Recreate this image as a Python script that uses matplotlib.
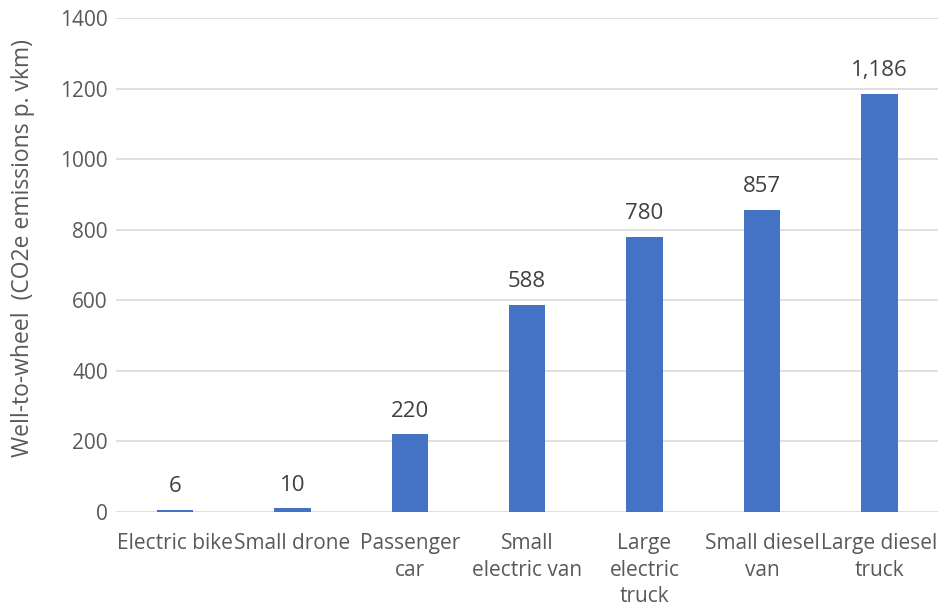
import matplotlib.pyplot as plt
import numpy as np

# Well-to-wheel emissions per vehicle type
categories = ["Electric bike", "Small drone", "Passenger\ncar", "Small\nelectric van",
              "Large\nelectric\ntruck", "Small diesel\nvan", "Large diesel\ntruck"]
emissions = [6, 10, 220, 588, 780, 857, 1186]
value_labels = ["6", "10", "220", "588", "780", "857", "1,186"]
y_ticks = [0, 200, 400, 600, 800, 1000, 1200, 1400]

BAR_COLOR = "#4472C4"
TEXT_COLOR = "#595959"
GRID_COLOR = "#D9D9D9"

plt.rcParams["font.family"] = ["Open Sans", "DejaVu Sans"]

fig = plt.figure(figsize=(9.38, 6.10), dpi=100)
ax = fig.add_axes([0.124, 0.1607, 0.876, 0.8098])

x = np.arange(len(categories))
ax.bar(x, emissions, width=0.31, color=BAR_COLOR, zorder=3)

for xi, v, lab in zip(x, emissions, value_labels):
    ax.annotate(lab, (xi, v), xytext=(0, 9), textcoords="offset points",
                ha="center", va="bottom", fontsize=16, color="#404040")

ax.set_xlim(-0.5, len(categories) - 0.5)
ax.set_ylim(0, 1400)
ax.set_yticks(y_ticks)
ax.set_yticklabels([str(t) for t in y_ticks], fontsize=15, color=TEXT_COLOR)
ax.set_xticks(x)
ax.set_xticklabels(categories, fontsize=15, color=TEXT_COLOR, linespacing=1.36, va="top")
ax.tick_params(axis="both", length=0)
ax.tick_params(axis="x", pad=15)
ax.tick_params(axis="y", pad=6)

ax.grid(axis="y", color=GRID_COLOR, linewidth=1.2, zorder=0)
for s in ax.spines.values():
    s.set_visible(False)

ax.set_ylabel("Well-to-wheel  (CO2e emissions p. vkm)", fontsize=16.5, color=TEXT_COLOR,
              va="center")
ax.yaxis.set_label_coords(-0.113, 0.534)

fig.savefig("out.png", dpi=100)
